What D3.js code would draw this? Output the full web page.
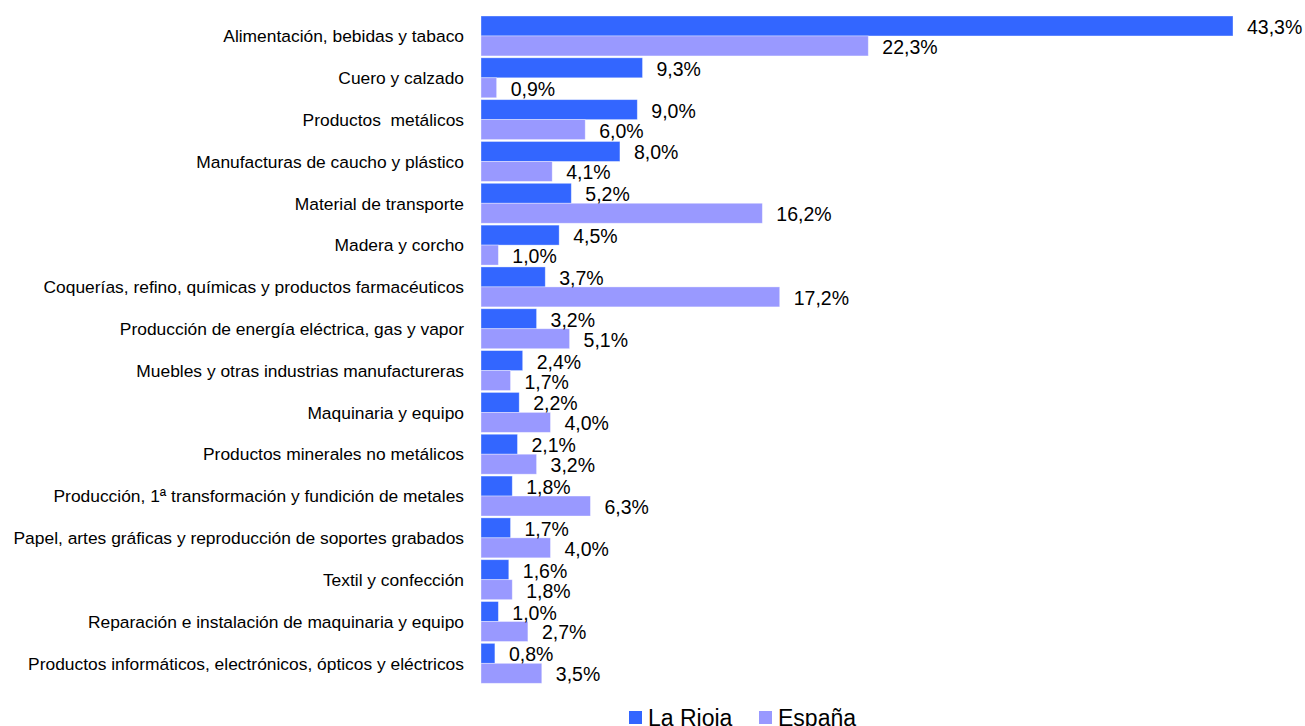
<!DOCTYPE html>
<html>
<head>
<meta charset="utf-8">
<script src="https://cdn.jsdelivr.net/npm/d3@7"></script>
<style>
  body { margin: 0; background: #fff; }
  svg { font-family: "Liberation Sans", Arial, Helvetica, sans-serif; }
  text { white-space: pre; fill: #000; }
</style>
</head>
<body>
<div id="chart"></div>
<script>
// sectores industriales, peso en el VAB industrial (%)
const categories = [
    "Alimentación, bebidas y tabaco",
    "Cuero y calzado",
    "Productos  metálicos",
    "Manufacturas de caucho y plástico",
    "Material de transporte",
    "Madera y corcho",
    "Coquerías, refino, químicas y productos farmacéuticos",
    "Producción de energía eléctrica, gas y vapor",
    "Muebles y otras industrias manufactureras",
    "Maquinaria y equipo",
    "Productos minerales no metálicos",
    "Producción, 1ª transformación y fundición de metales",
    "Papel, artes gráficas y reproducción de soportes grabados",
    "Textil y confección",
    "Reparación e instalación de maquinaria y equipo",
    "Productos informáticos, electrónicos, ópticos y eléctricos"
];
const laRioja = [43.3, 9.3, 9.0, 8.0, 5.2, 4.5, 3.7, 3.2, 2.4, 2.2, 2.1, 1.8, 1.7, 1.6, 1.0, 0.8];
const espana  = [22.3, 0.9, 6.0, 4.1, 16.2, 1.0, 17.2, 5.1, 1.7, 4.0, 3.2, 6.3, 4.0, 1.8, 2.7, 3.5];
const seriesNames = ["La Rioja", "España"];
const seriesColors = ["#3366ff", "#9999ff"];

const width = 1305, height = 726;

const rows = categories.map((c, i) => ({ name: c, values: [laRioja[i], espana[i]] }));

const svg = d3.select("#chart").append("svg")
    .attr("width", width)
    .attr("height", height);

const x = d3.scaleLinear()
    .domain([0, 43.3])
    .range([481, 1233]);

const y = d3.scaleBand()
    .domain(categories)
    .range([16, 683.3])
    .paddingInner(0.045)
    .paddingOuter(0);

const ySub = d3.scaleBand()
    .domain([0, 1])
    .range([0, y.bandwidth()]);

const fmt = d3.formatLocale({ decimal: ",", thousands: ".", grouping: [3], currency: ["", "€"] }).format(".1f");

const groups = svg.append("g").selectAll("g.row")
    .data(rows)
    .join("g")
    .classed("row", true)
    .attr("transform", d => `translate(0,${y(d.name)})`);

groups.selectAll("rect.bar")
    .data(d => d.values)
    .join("rect")
    .classed("bar", true)
    .attr("x", x(0))
    .attr("y", (v, j) => ySub(j))
    .attr("width", v => x(v) - x(0))
    .attr("height", ySub.bandwidth())
    .attr("fill", (v, j) => seriesColors[j])
    .attr("stroke", "#ffffff")
    .attr("stroke-opacity", 0.45)
    .attr("stroke-width", 0.8);

groups.selectAll("text.val")
    .data(d => d.values)
    .join("text")
    .classed("val", true)
    .attr("x", v => x(v) + 14)
    .attr("y", (v, j) => ySub(j) + ySub.bandwidth() / 2 + 8)
    .attr("font-size", 19.5)
    .text(v => fmt(v) + "%");

// etiquetas de categoría
svg.append("g").selectAll("text")
    .data(categories)
    .join("text")
    .attr("x", 464)
    .attr("y", d => y(d) + y.bandwidth() / 2)
    .attr("dy", "0.36em")
    .attr("text-anchor", "end")
    .attr("font-size", 17.4)
    .text(d => d);

// leyenda
const legend = svg.append("g").attr("transform", "translate(629,711)");
const legendX = [0, 130];
seriesNames.forEach((name, i) => {
    legend.append("rect")
        .attr("x", legendX[i])
        .attr("y", 0)
        .attr("width", 13)
        .attr("height", 13)
        .attr("fill", seriesColors[i]);
    legend.append("text")
        .attr("x", legendX[i] + 19)
        .attr("y", 14.5)
        .attr("font-size", 23)
        .text(name);
});
</script>
</body>
</html>
